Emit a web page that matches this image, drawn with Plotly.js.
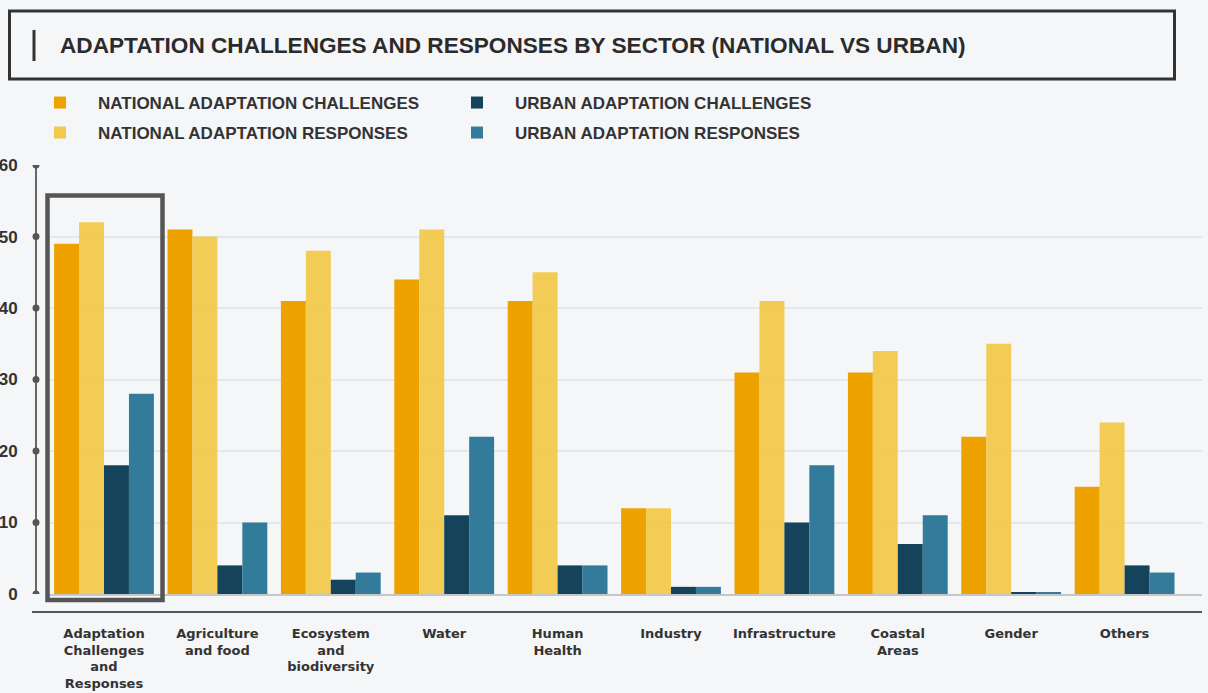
<!DOCTYPE html>
<html>
<head>
<meta charset="utf-8">
<script src="https://cdn.plot.ly/plotly-3.0.1.min.js"></script>
<style>
  html, body { margin: 0; padding: 0; background: #f5f6f8; }
  #chart { width: 1208px; height: 693px; }
</style>
</head>
<body>
<div id="chart"></div>
<script>
// ---- data ----
const categories = [
  "Adaptation<br>Challenges<br>and<br>Responses",
  "Agriculture<br>and food",
  "Ecosystem<br>and<br>biodiversity",
  "Water",
  "Human<br>Health",
  "Industry",
  "Infrastructure",
  "Coastal<br>Areas",
  "Gender",
  "Others"
];
const nationalChallenges = [49, 51, 41, 44, 41, 12, 31, 31, 22, 15];
const nationalResponses  = [52, 50, 48, 51, 45, 12, 41, 34, 35, 24];
const urbanChallenges    = [18, 4, 2, 11, 4, 1, 10, 7, 0.2, 4];
const urbanResponses     = [28, 10, 3, 22, 4, 1, 18, 11, 0.2, 3];
const seriesNames = [
  "NATIONAL ADAPTATION CHALLENGES",
  "NATIONAL ADAPTATION RESPONSES",
  "URBAN ADAPTATION CHALLENGES",
  "URBAN ADAPTATION RESPONSES"
];
const yTicks = [0, 10, 20, 30, 40, 50, 60];
const chartTitle = "ADAPTATION CHALLENGES AND RESPONSES BY SECTOR (NATIONAL VS URBAN)";

// ---- geometry helpers (pixel -> paper) ----
const FW = 1208, FH = 693;
const L = 36, R = 6, T = 165, B = 99;
const W = FW - L - R, H = FH - T - B;
const px = x => (x - L) / W;
const py = y => (FH - B - y) / H;

const colors = ["#EEA200", "#F2C94C", "#14435B", "#327B9A"];
const opac = [1, 0.95, 1, 1];
const values = [nationalChallenges, nationalResponses, urbanChallenges, urbanResponses];
const legendOf = ["legend", "legend2", "legend", "legend2"];
const FONT = "Liberation Sans, Arial, Helvetica, sans-serif";
const CATFONT = "DejaVu Sans, Liberation Sans, Arial, sans-serif";

const traces = values.map((v, i) => ({
  type: "bar",
  name: seriesNames[i],
  x: categories,
  y: v,
  marker: { color: colors[i], opacity: opac[i], line: { width: 0 } },
  legend: legendOf[i],
  hoverinfo: "x+y+name"
}));

const shapes = [];
// title box
shapes.push({ type: "rect", xref: "paper", yref: "paper",
  x0: px(9.5), x1: px(1174.5), y0: py(79), y1: py(11),
  line: { color: "#333333", width: 3 }, fillcolor: "rgba(0,0,0,0)", layer: "above" });
// title accent bar
shapes.push({ type: "line", xref: "paper", yref: "paper",
  x0: px(34), x1: px(34), y0: py(30), y1: py(61),
  line: { color: "#333333", width: 3 } });
// bottom dark rule
shapes.push({ type: "line", xref: "paper", yref: "paper",
  x0: px(32), x1: px(1202), y0: py(612), y1: py(612),
  line: { color: "#555555", width: 2 } });
// highlight box around first category
shapes.push({ type: "rect", xref: "paper", yref: "paper",
  x0: px(47.5), x1: px(162.5), y0: py(600), y1: py(195.5),
  line: { color: "#555555", width: 4.5 }, fillcolor: "rgba(0,0,0,0)", layer: "above" });
// dots on y axis at ticks
yTicks.forEach(t => {
  shapes.push({ type: "circle", xref: "paper", yref: "y",
    xsizemode: "pixel", ysizemode: "pixel", xanchor: 0, yanchor: t,
    x0: -3.5, x1: 3.5, y0: -3.5, y1: 3.5,
    fillcolor: "#555555", line: { width: 0 }, layer: "above" });
});

const legendCommon = {
  orientation: "h", x: px(22), xanchor: "left", yanchor: "middle",
  itemwidth: 66, entrywidth: 336, bgcolor: "rgba(0,0,0,0)",
  font: { size: 17, color: "#333333", family: FONT, weight: "bold" },
  itemclick: false, itemdoubleclick: false
};

const layout = {
  width: FW, height: FH,
  paper_bgcolor: "#f5f6f8", plot_bgcolor: "#f5f6f8",
  margin: { l: L, r: R, t: T, b: B, pad: 0 },
  font: { family: FONT, color: "#333333" },
  title: {
    text: "<b>" + chartTitle + "</b>",
    font: { size: 22.6, color: "#2b2b2b", family: FONT },
    xref: "container", yref: "container", x: 60 / FW, xanchor: "left",
    y: 1 - 45 / FH, yanchor: "middle"
  },
  barmode: "group", bargap: 0.12, bargroupgap: 0,
  xaxis: {
    type: "category",
    domain: [px(46), 1],
    range: [(46 - 104) / 113.4, (1202 - 104) / 113.4],
    showgrid: false, zeroline: false,
    showline: true, linecolor: "#c6c6c6", linewidth: 2,
    ticks: "outside", ticklen: 26, tickcolor: "rgba(0,0,0,0)",
    tickfont: { size: 13, color: "#333333", family: CATFONT, weight: "bold" },
    tickangle: 0, fixedrange: true
  },
  yaxis: {
    range: [0, 60.01],
    anchor: "free", position: 0,
    tickvals: yTicks,
    ticktext: yTicks.map(String),
    showline: true, linecolor: "#666666", linewidth: 2,
    showgrid: true, gridcolor: "#e6e7ea", gridwidth: 1.5,
    zeroline: false,
    ticks: "outside", ticklen: 14, tickcolor: "rgba(0,0,0,0)",
    tickfont: { size: 17, color: "#333333", family: FONT, weight: "bold" },
    fixedrange: true
  },
  legend: Object.assign({}, legendCommon, { y: py(103) }),
  legend2: Object.assign({}, legendCommon, { y: py(133) }),
  shapes: shapes,
  showlegend: true
};

Plotly.newPlot("chart", traces, layout, { displayModeBar: false });
</script>
</body>
</html>
